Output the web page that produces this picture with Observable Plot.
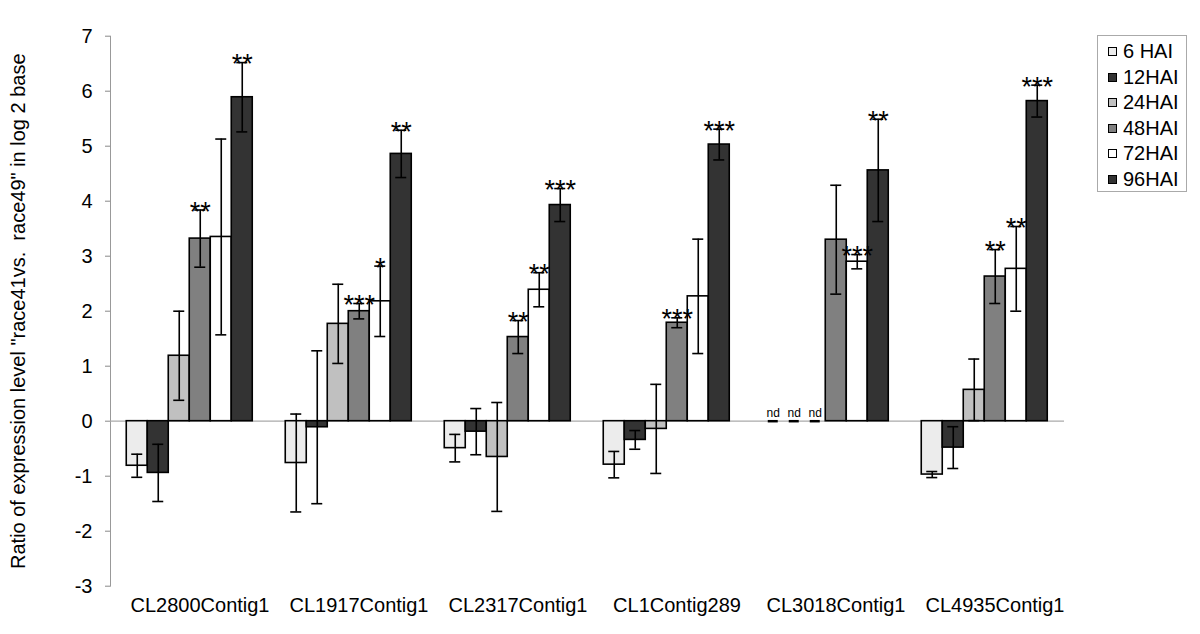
<!DOCTYPE html>
<html>
<head>
<meta charset="utf-8">
<script src="https://cdn.jsdelivr.net/npm/d3@7"></script>
<script src="https://cdn.jsdelivr.net/npm/@observablehq/plot@0.6"></script>
<style>
  html, body { margin: 0; padding: 0; background: #fff; }
  #wrap { position: relative; width: 1200px; height: 634px; font-family: "Liberation Sans", Arial, sans-serif; }
  #legend { position: absolute; left: 1097px; top: 35px; width: 90px; height: 157px; border: 1px solid #aaa; box-sizing: border-box; padding-top: 3px; }
  .li { height: 25.5px; line-height: 25.5px; font-size: 20px; white-space: nowrap; display: flex; align-items: center; }
  .sw { width: 7px; height: 7px; border: 1.5px solid #000; margin-left: 10px; margin-right: 6px; box-sizing: content-box; }
</style>
</head>
<body>
<div id="wrap"><div id="legend"></div></div>
<script>
const categories = ["CL2800Contig1", "CL1917Contig1", "CL2317Contig1", "CL1Contig289", "CL3018Contig1", "CL4935Contig1"];
const series = ["6 HAI", "12HAI", "24HAI", "48HAI", "72HAI", "96HAI"];
const colors = ["#ececec", "#333333", "#c0c0c0", "#808080", "#ffffff", "#333333"];
const yTicks = [-3, -2, -1, 0, 1, 2, 3, 4, 5, 6, 7];
const yTitle = "Ratio of expression level \"race41vs.  race49\" in log 2 base";

// values per series, one per category (null = nd)
const hai6  = [-0.81, -0.76, -0.49, -0.79, null, -0.97];
const hai12 = [-0.94, -0.11, -0.19, -0.34, null, -0.48];
const hai24 = [1.19, 1.77, -0.65, -0.14, null, 0.57];
const hai48 = [3.32, 2.00, 1.53, 1.79, 3.30, 2.63];
const hai72 = [3.35, 2.18, 2.39, 2.27, 2.90, 2.77];
const hai96 = [5.89, 4.86, 3.93, 5.03, 4.56, 5.82];

// error bar half-lengths
const err6  = [0.21, 0.89, 0.25, 0.24, null, 0.055];
const err12 = [0.52, 1.39, 0.42, 0.17, null, 0.38];
const err24 = [0.81, 0.72, 0.99, 0.81, null, 0.56];
const err48 = [0.52, 0.14, 0.30, 0.09, 0.99, 0.49];
const err72 = [1.78, 0.64, 0.31, 1.04, 0.13, 0.77];
const err96 = [0.63, 0.43, 0.30, 0.28, 0.93, 0.29];

// significance marks
const sig6  = ["", "", "", "", "", ""];
const sig12 = ["", "", "", "", "", ""];
const sig24 = ["", "", "", "", "", ""];
const sig48 = ["**", "***", "**", "***", "", "**"];
const sig72 = ["", "*", "**", "", "***", "**"];
const sig96 = ["**", "**", "***", "***", "**", "***"];

const ndLabel = "nd";

const valueSets = [hai6, hai12, hai24, hai48, hai72, hai96];
const errSets = [err6, err12, err24, err48, err72, err96];
const sigSets = [sig6, sig12, sig24, sig48, sig72, sig96];

const rows = [];
categories.forEach((cat, ci) => {
  series.forEach((s, si) => {
    const v = valueSets[si][ci];
    const e = errSets[si][ci];
    rows.push({cat, series: s, value: v, lo: v == null ? null : v - e, hi: v == null ? null : v + e, sig: sigSets[si][ci], nd: v == null});
  });
});
const barRows = rows.filter(d => !d.nd);
const sigRows = barRows.filter(d => d.sig);
const ndRows = rows.filter(d => d.nd);

const chart = Plot.plot({
  width: 1200,
  height: 634,
  marginLeft: 108.75,
  marginRight: 134.25,
  marginTop: 35.7,
  marginBottom: 48.3,
  style: {fontFamily: "'Liberation Sans', Arial, sans-serif", background: "#fff", color: "#000"},
  fx: {domain: categories, padding: 0},
  x: {domain: series, paddingInner: 0, paddingOuter: 0.727, axis: null},
  y: {domain: [-3, 7]},
  color: {domain: series, range: colors},
  marks: [
    Plot.axisY({ticks: yTicks, tickSize: 5, tickPadding: 13, stroke: "#888", fill: "#000", fontSize: 20,
      tickFormat: d => `${d}`, label: yTitle, labelAnchor: "center", labelArrow: "none", labelOffset: 100}),
    Plot.axisFx({anchor: "bottom", tickSize: 0, tickPadding: 12, label: null, fontSize: 20, fill: "#000", dx: 10}),
    Plot.frame({anchor: "left", stroke: "#999", facetAnchor: "left"}),
    Plot.ruleY([0], {stroke: "#aaa", strokeWidth: 1.2}),
    Plot.barY(barRows, {fx: "cat", x: "series", y: "value", fill: "series", stroke: "#000", strokeWidth: 1.6}),
    Plot.ruleX(barRows, {fx: "cat", x: "series", y1: "lo", y2: "hi", stroke: "#000", strokeWidth: 1.6}),
    Plot.tickY(barRows, {fx: "cat", x: "series", y: "lo", stroke: "#000", strokeWidth: 1.6, insetLeft: 5, insetRight: 5}),
    Plot.tickY(barRows, {fx: "cat", x: "series", y: "hi", stroke: "#000", strokeWidth: 1.6, insetLeft: 5, insetRight: 5}),
    Plot.text(sigRows, {fx: "cat", x: "series", y: "hi", text: "sig", fontSize: 27, dy: 2, fill: "#000"}),
    Plot.text(ndRows, {fx: "cat", x: "series", y: 0, text: () => ndLabel, fontSize: 12, dy: -8, fill: "#000"}),
    Plot.tickY(ndRows, {fx: "cat", x: "series", y: 0, stroke: "#000", strokeWidth: 2.5, insetLeft: 5.5, insetRight: 5.5})
  ]
});

const wrap = document.getElementById("wrap");
chart.style.position = "absolute";
chart.style.left = "0";
chart.style.top = "0";
wrap.insertBefore(chart, wrap.firstChild);

const legend = document.getElementById("legend");
series.forEach((s, i) => {
  const li = document.createElement("div");
  li.className = "li";
  const sw = document.createElement("span");
  sw.className = "sw";
  sw.style.background = colors[i];
  li.appendChild(sw);
  li.appendChild(document.createTextNode(s));
  legend.appendChild(li);
});
</script>
</body>
</html>
